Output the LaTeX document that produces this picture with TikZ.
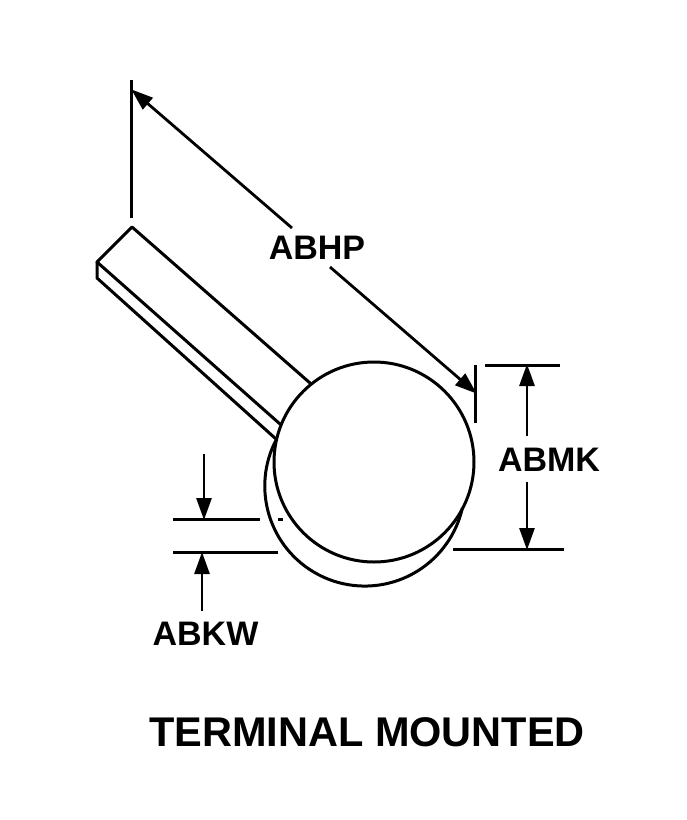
\documentclass[tikz,border=0pt]{standalone}
\usepackage{fontspec}
\setmainfont{Liberation Sans}
\usetikzlibrary{arrows.meta}
\tikzset{
    part/.style={line width=3pt, line cap=round, line join=round},
    extline/.style={line width=3pt},
    dimarrow/.style={line width=2.8pt, -{Triangle[length=22pt, width=15pt]}, shorten >=-1pt},
    dimlabel/.style={font=\bfseries\fontsize{34}{34}\selectfont, inner xsep=0pt, inner ysep=0pt, text height=25pt, text depth=0pt},
}

\begin{document}
\begin{tikzpicture}[x=1pt, y=-1pt]
    \useasboundingbox (0,0) rectangle (687,820);

    % flat terminal
    \draw[part] (280,424) -- (97,262) -- (132,227) -- (310,383);
    \draw[part] (97,262) -- (97,278) -- (276,439);

    % body, back circle only where it shows
    \draw[part] (374,462) circle (100);
    \draw[part] (276.5,439.1) arc[start angle=208, end angle=13, radius=100];

    \coordinate (hptip) at (132,90);
    \coordinate (hpend) at (476,393);
    \coordinate (hpa) at (292,228);
    \coordinate (hpb) at (330,267);
    \coordinate (mktop) at (527,365);
    \coordinate (mkbot) at (527,549);
    \coordinate (kwtop) at (204,519);
    \coordinate (kwbot) at (202,553);
    \coordinate (kwstart) at (204,454);

    \node[dimlabel, inner ysep=5pt, minimum width=94pt] (abhp) at (317,247) {ABHP};
    \node[dimlabel, inner ysep=10pt, minimum width=100pt] (abmk) at (549,459) {ABMK};
    \node[dimlabel, inner ysep=9pt, minimum width=104pt] (abkw) at (205.5,633) {ABKW};
    \node[dimlabel, font=\bfseries\fontsize{41.5}{41.5}\selectfont] (title) at (367,734) {TERMINAL MOUNTED};

    % extension lines
    \draw[extline] (131.5,80) -- (131.5,218);
    \draw[extline] (475.5,365) -- (475.5,423);
    \draw[extline] (485,365) -- (560,365);
    \draw[extline] (453,549) -- (564,549);
    \draw[extline] (173,519.5) -- (260,519.5);
    \draw[extline] (278,519.5) -- (283,519.5);
    \draw[extline] (173,552.5) -- (278,552.5);

    % dimensions
    \draw[dimarrow] (hpa) -- (hptip);
    \draw[dimarrow] (hpb) -- (hpend);
    \draw[dimarrow] (abmk.center |- abmk.north) ++(-22,0) -- (mktop);
    \draw[dimarrow] (abmk.center |- abmk.south) ++(-22,0) -- (mkbot);
    \draw[dimarrow] (kwstart) -- (kwtop);
    \draw[dimarrow] (abkw.north -| kwbot) -- (kwbot);
\end{tikzpicture}
\end{document}
